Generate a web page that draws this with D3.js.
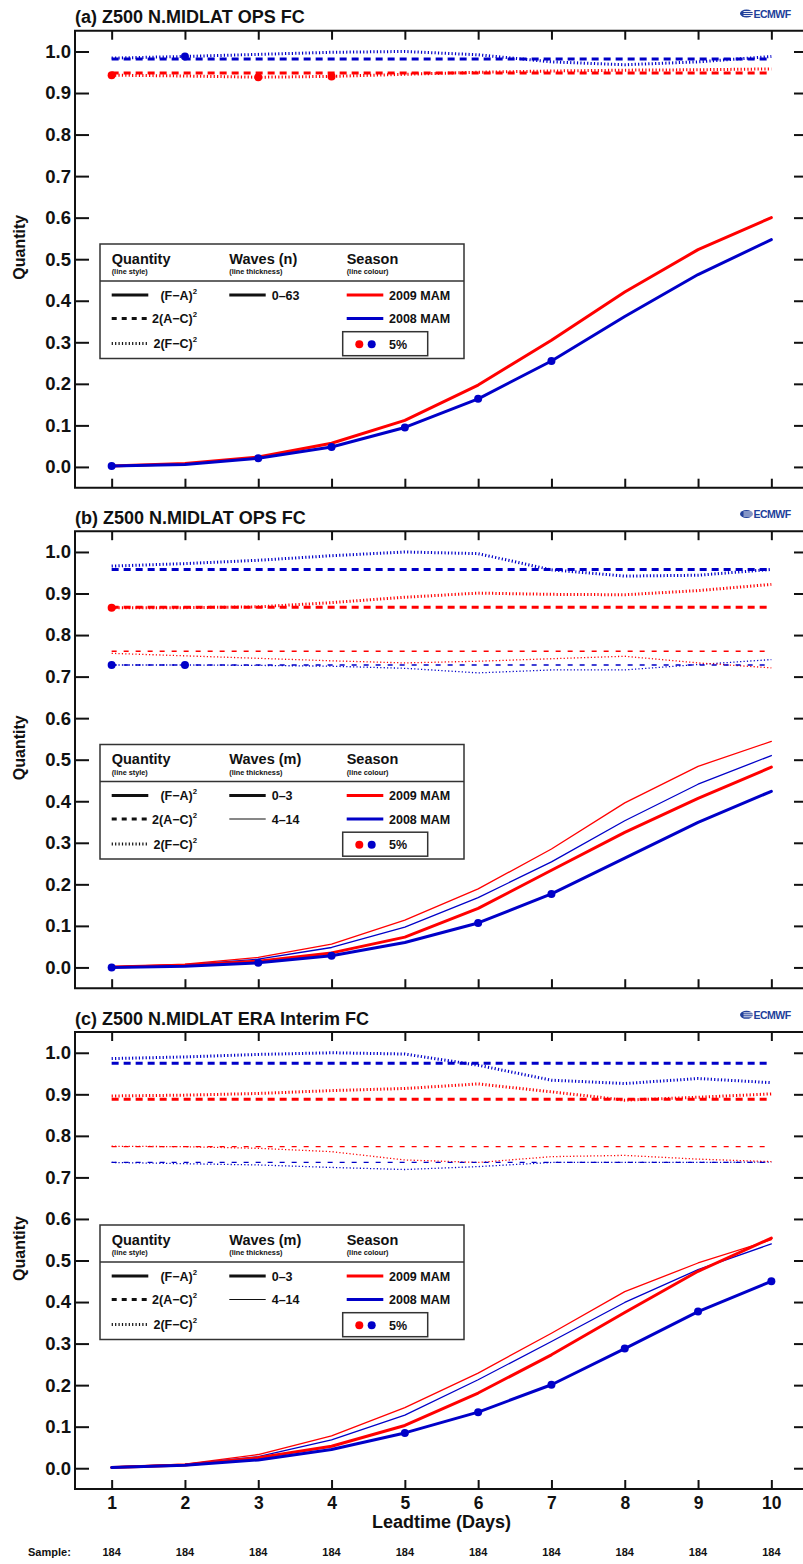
<!DOCTYPE html>
<html>
<head>
<script src="https://d3js.org/d3.v7.min.js"></script>
<style>
  body { margin: 0; background: #fff; }
  svg text { font-family: "Liberation Sans", Arial, Helvetica, sans-serif; font-weight: bold; }
</style>
</head>
<body>
<div id="chart"></div>
<script>
// ---- data ----
const days = [1, 2, 3, 4, 5, 6, 7, 8, 9, 10];
const yTicks = [0, 0.1, 0.2, 0.3, 0.4, 0.5, 0.6, 0.7, 0.8, 0.9, 1.0];
const samples = [184, 184, 184, 184, 184, 184, 184, 184, 184, 184];
const titles = ["(a) Z500 N.MIDLAT OPS FC", "(b) Z500 N.MIDLAT OPS FC", "(c) Z500 N.MIDLAT ERA Interim FC"];
const seasons = ["2009 MAM", "2008 MAM"];

// panel (a): waves 0-63
const a_FA_2009 = [0.002, 0.008, 0.024, 0.057, 0.112, 0.197, 0.305, 0.421, 0.523, 0.600];
const a_FA_2008 = [0.002, 0.006, 0.021, 0.048, 0.095, 0.164, 0.255, 0.362, 0.463, 0.547];
const a_AC_2009 = [0.948, 0.948, 0.948, 0.948, 0.948, 0.948, 0.948, 0.948, 0.948, 0.948];
const a_AC_2008 = [0.982, 0.982, 0.982, 0.982, 0.982, 0.982, 0.982, 0.982, 0.982, 0.982];
const a_FC_2009 = [0.943, 0.941, 0.938, 0.940, 0.945, 0.950, 0.953, 0.955, 0.956, 0.958];
const a_FC_2008 = [0.984, 0.988, 0.993, 0.998, 1.000, 0.992, 0.975, 0.968, 0.975, 0.988];

// panel (b): waves 0-3 (thick) and 4-14 (thin)
const b_FA_2009_03 = [0.001, 0.005, 0.015, 0.035, 0.073, 0.142, 0.234, 0.325, 0.407, 0.482];
const b_FA_2008_03 = [0.000, 0.003, 0.011, 0.028, 0.060, 0.107, 0.177, 0.263, 0.349, 0.424];
const b_FA_2009_414 = [0.001, 0.008, 0.024, 0.056, 0.114, 0.189, 0.285, 0.396, 0.484, 0.544];
const b_FA_2008_414 = [0.001, 0.006, 0.020, 0.048, 0.097, 0.168, 0.254, 0.353, 0.441, 0.510];
const b_AC_2009_03 = [0.867, 0.867, 0.867, 0.867, 0.867, 0.867, 0.867, 0.867, 0.867, 0.867];
const b_AC_2008_03 = [0.958, 0.958, 0.958, 0.958, 0.958, 0.958, 0.958, 0.958, 0.958, 0.958];
const b_AC_2009_414 = [0.761, 0.761, 0.761, 0.761, 0.761, 0.761, 0.761, 0.761, 0.761, 0.761];
const b_AC_2008_414 = [0.728, 0.728, 0.728, 0.728, 0.728, 0.728, 0.728, 0.728, 0.728, 0.728];
const b_FC_2009_03 = [0.866, 0.866, 0.868, 0.878, 0.891, 0.901, 0.898, 0.897, 0.907, 0.922];
const b_FC_2008_03 = [0.966, 0.972, 0.980, 0.991, 1.000, 0.996, 0.957, 0.942, 0.944, 0.958];
const b_FC_2009_414 = [0.756, 0.750, 0.744, 0.738, 0.733, 0.737, 0.743, 0.749, 0.733, 0.721];
const b_FC_2008_414 = [0.728, 0.728, 0.727, 0.725, 0.720, 0.709, 0.716, 0.716, 0.729, 0.741];

// panel (c): waves 0-3 (thick) and 4-14 (thin)
const c_FA_2009_03 = [0.002, 0.008, 0.025, 0.053, 0.103, 0.181, 0.273, 0.375, 0.474, 0.554];
const c_FA_2008_03 = [0.002, 0.007, 0.020, 0.045, 0.085, 0.135, 0.201, 0.288, 0.377, 0.450];
const c_FA_2009_414 = [0.003, 0.010, 0.033, 0.078, 0.146, 0.229, 0.325, 0.425, 0.494, 0.550];
const c_FA_2008_414 = [0.003, 0.009, 0.028, 0.068, 0.128, 0.213, 0.305, 0.399, 0.478, 0.540];
const c_AC_2009_03 = [0.888, 0.888, 0.888, 0.888, 0.888, 0.888, 0.888, 0.888, 0.888, 0.888];
const c_AC_2008_03 = [0.975, 0.975, 0.975, 0.975, 0.975, 0.975, 0.975, 0.975, 0.975, 0.975];
const c_AC_2009_414 = [0.774, 0.774, 0.774, 0.774, 0.774, 0.774, 0.774, 0.774, 0.774, 0.774];
const c_AC_2008_414 = [0.736, 0.736, 0.736, 0.736, 0.736, 0.736, 0.736, 0.736, 0.736, 0.736];
const c_FC_2009_03 = [0.896, 0.898, 0.902, 0.909, 0.914, 0.925, 0.906, 0.886, 0.893, 0.901];
const c_FC_2008_03 = [0.986, 0.990, 0.996, 1.000, 0.997, 0.970, 0.934, 0.926, 0.938, 0.928];
const c_FC_2009_414 = [0.775, 0.774, 0.770, 0.762, 0.742, 0.736, 0.750, 0.753, 0.744, 0.738];
const c_FC_2008_414 = [0.736, 0.733, 0.730, 0.724, 0.719, 0.726, 0.736, 0.736, 0.736, 0.737];

// days flagged significant at 5% (dots)
const a_sig_FC_2009 = [1, 3, 4];
const a_sig_FC_2008 = [2];
const a_sig_FA_2008 = [1, 3, 4, 5, 6, 7];
const b_sig_FC_2009_03 = [1];
const b_sig_FC_2008_414 = [1, 2];
const b_sig_FA_2008_03 = [1, 3, 4, 6, 7];
const c_sig_FA_2008_03 = [5, 6, 7, 8, 9, 10];

// ---- layout ----
const W = 803, H = 1564;
const frameLeft = 75, frameRight = 808;
const panelTops = [30.7, 531.2, 1032];
const panelH = 457;
const legendDy = [213.3, 213.3, 193];

const red = "#ff0000", blue = "#0000c8";
const colour = { "2009": red, "2008": blue };
const dash = {
  FA: { thick: null, thin: null },
  AC: { thick: "7,5", thin: "5,7" },
  FC: { thick: "1.2,2.2", thin: "1.2,2.2" }
};
const widthOf = { thick: 3, thin: 1.3 };

function S(values, q, w, s) { return { values, q, w, s }; }

const panels = [
  {
    waveName: "Waves (n)", waveLabels: ["0–63"],
    series: [
      S(a_FC_2008, "FC", "thick", "2008"), S(a_FC_2009, "FC", "thick", "2009"),
      S(a_AC_2008, "AC", "thick", "2008"), S(a_AC_2009, "AC", "thick", "2009"),
      S(a_FA_2009, "FA", "thick", "2009"), S(a_FA_2008, "FA", "thick", "2008")
    ],
    dots: [[a_FC_2009, a_sig_FC_2009, "2009"], [a_FC_2008, a_sig_FC_2008, "2008"], [a_FA_2008, a_sig_FA_2008, "2008"]]
  },
  {
    waveName: "Waves (m)", waveLabels: ["0–3", "4–14"],
    series: [
      S(b_FC_2008_414, "FC", "thin", "2008"), S(b_FC_2009_414, "FC", "thin", "2009"),
      S(b_AC_2008_414, "AC", "thin", "2008"), S(b_AC_2009_414, "AC", "thin", "2009"),
      S(b_FC_2008_03, "FC", "thick", "2008"), S(b_FC_2009_03, "FC", "thick", "2009"),
      S(b_AC_2008_03, "AC", "thick", "2008"), S(b_AC_2009_03, "AC", "thick", "2009"),
      S(b_FA_2009_414, "FA", "thin", "2009"), S(b_FA_2008_414, "FA", "thin", "2008"),
      S(b_FA_2009_03, "FA", "thick", "2009"), S(b_FA_2008_03, "FA", "thick", "2008")
    ],
    dots: [[b_FC_2009_03, b_sig_FC_2009_03, "2009"], [b_FC_2008_414, b_sig_FC_2008_414, "2008"], [b_FA_2008_03, b_sig_FA_2008_03, "2008"]]
  },
  {
    waveName: "Waves (m)", waveLabels: ["0–3", "4–14"],
    series: [
      S(c_FC_2008_414, "FC", "thin", "2008"), S(c_FC_2009_414, "FC", "thin", "2009"),
      S(c_AC_2008_414, "AC", "thin", "2008"), S(c_AC_2009_414, "AC", "thin", "2009"),
      S(c_FC_2008_03, "FC", "thick", "2008"), S(c_FC_2009_03, "FC", "thick", "2009"),
      S(c_AC_2008_03, "AC", "thick", "2008"), S(c_AC_2009_03, "AC", "thick", "2009"),
      S(c_FA_2009_414, "FA", "thin", "2009"), S(c_FA_2008_414, "FA", "thin", "2008"),
      S(c_FA_2009_03, "FA", "thick", "2009"), S(c_FA_2008_03, "FA", "thick", "2008")
    ],
    dots: [[c_FA_2008_03, c_sig_FA_2008_03, "2008"]]
  }
];

const svg = d3.select("#chart").append("svg")
  .attr("width", W).attr("height", H)
  .style("display", "block");

const x = d3.scaleLinear().domain([0.5, 10.5]).range([frameLeft, frameRight]);

function drawLogo(g, ty) {
  const lg = g.append("g").attr("transform", `translate(740,${ty})`);
  lg.append("ellipse").attr("cx", 6.5).attr("cy", 3.8).attr("rx", 6.5).attr("ry", 4).attr("fill", "#21409a");
  [1.8, 3.8, 5.8].forEach(yy => lg.append("line")
    .attr("x1", 3.5).attr("x2", 13).attr("y1", yy).attr("y2", yy)
    .attr("stroke", "#fff").attr("stroke-width", 0.9));
  lg.append("text").attr("x", 13.5).attr("y", 7.8)
    .attr("font-size", 10.5).attr("fill", "#21409a").attr("letter-spacing", -0.5)
    .text("ECMWF");
}

function superText(g, xx, yy, main, anchor, size) {
  const t = g.append("text").attr("x", xx).attr("y", yy)
    .attr("font-size", size).attr("text-anchor", anchor).attr("fill", "#111");
  t.append("tspan").text(main);
  t.append("tspan").attr("font-size", size * 0.62).attr("dy", -6).text("2");
  return t;
}

panels.forEach((p, pi) => {
  const top = panelTops[pi];
  const bottom = top + panelH;
  const y = d3.scaleLinear().domain([-0.05, 1.05]).range([bottom, top]);
  const g = svg.append("g");

  // title + logo
  g.append("text").attr("x", frameLeft).attr("y", top - 7.5)
    .attr("font-size", 18).attr("fill", "#111").text(titles[pi]);
  drawLogo(g, top - 21);

  // y axes (ticks inward on both sides)
  const yl = g.append("g").attr("transform", `translate(${frameLeft},0)`)
    .call(d3.axisLeft(y).tickValues(yTicks).tickFormat(d3.format(".1f")).tickSize(-14).tickPadding(4));
  const yr = g.append("g").attr("transform", `translate(${frameRight},0)`)
    .call(d3.axisRight(y).tickValues(yTicks).tickFormat("").tickSize(-14));
  [yl, yr].forEach(a => {
    a.select(".domain").remove();
    a.selectAll(".tick line").attr("stroke", "#111").attr("stroke-width", 2);
  });
  yl.selectAll(".tick text").attr("font-size", 18.5).attr("fill", "#111")
    .attr("font-family", "Liberation Sans, Arial, sans-serif").attr("font-weight", "bold");

  // x axes (ticks inward top and bottom)
  const xb = g.append("g").attr("transform", `translate(0,${bottom})`)
    .call(d3.axisBottom(x).tickValues(days).tickSize(-9).tickPadding(8)
      .tickFormat(pi === 2 ? d3.format("d") : ""));
  const xt = g.append("g").attr("transform", `translate(0,${top})`)
    .call(d3.axisTop(x).tickValues(days).tickSize(-9).tickFormat(""));
  [xb, xt].forEach(a => {
    a.select(".domain").remove();
    a.selectAll(".tick line").attr("stroke", "#111").attr("stroke-width", 2);
  });
  xb.selectAll(".tick text").attr("font-size", 17.5).attr("fill", "#111")
    .attr("font-family", "Liberation Sans, Arial, sans-serif").attr("font-weight", "bold");

  // frame: left, top, bottom
  g.append("path")
    .attr("d", `M${frameRight + 5},${top}H${frameLeft}V${bottom}H${frameRight + 5}`)
    .attr("fill", "none").attr("stroke", "#111").attr("stroke-width", 2);

  // y label
  g.append("text")
    .attr("transform", `translate(25,${(top + bottom) / 2 - 12}) rotate(-90)`)
    .attr("text-anchor", "middle").attr("font-size", 16).attr("fill", "#111")
    .text("Quantity");

  // lines
  const line = d3.line().x((d, i) => x(days[i])).y(d => y(d));
  g.append("g").selectAll("path").data(p.series).join("path")
    .attr("d", d => line(d.values))
    .attr("fill", "none")
    .attr("stroke", d => colour[d.s])
    .attr("stroke-width", d => widthOf[d.w])
    .attr("stroke-dasharray", d => dash[d.q][d.w])
    .attr("stroke-linejoin", "round")
    .attr("stroke-linecap", d => d.q === "FA" ? "round" : "butt");

  // significance dots
  const dotData = [];
  p.dots.forEach(([vals, sig, s]) => sig.forEach(dd => dotData.push({ d: dd, v: vals[dd - 1], s })));
  g.append("g").selectAll("circle").data(dotData).join("circle")
    .attr("cx", d => x(d.d)).attr("cy", d => y(d.v)).attr("r", 4)
    .attr("fill", d => colour[d.s]);

  // legend
  const L = g.append("g").attr("transform", `translate(100,${top + legendDy[pi]})`);
  L.append("rect").attr("width", 364).attr("height", 114.5)
    .attr("fill", "#fff").attr("stroke", "#333").attr("stroke-width", 1.5);
  L.append("line").attr("x1", 0).attr("x2", 364).attr("y1", 37).attr("y2", 37)
    .attr("stroke", "#333").attr("stroke-width", 1.5);
  const heads = [["Quantity", "(line style)", 11.7], [p.waveName, "(line thickness)", 129.3], ["Season", "(line colour)", 246.7]];
  heads.forEach(([h, sub, hx]) => {
    L.append("text").attr("x", hx).attr("y", 19.5).attr("font-size", 14.5).attr("fill", "#111").text(h);
    L.append("text").attr("x", hx).attr("y", 30).attr("font-size", 7.3).attr("fill", "#111").text(sub);
  });
  const rowsY = [51, 74.5, 99.5];
  const qLabels = [["(F−A)", null], ["2(A−C)", "5,5"], ["2(F−C)", "1.2,2.2"]];
  qLabels.forEach(([lab, da], i) => {
    L.append("line").attr("x1", 11.7).attr("x2", 48.3).attr("y1", rowsY[i]).attr("y2", rowsY[i])
      .attr("stroke", "#111").attr("stroke-width", 3).attr("stroke-dasharray", da);
    superText(L, 97, rowsY[i] + 4.5, lab, "end", 12.5);
  });
  p.waveLabels.forEach((lab, i) => {
    L.append("line").attr("x1", 129.3).attr("x2", 165.7).attr("y1", rowsY[i]).attr("y2", rowsY[i])
      .attr("stroke", "#111").attr("stroke-width", i === 0 ? 3 : 1.2);
    L.append("text").attr("x", 171.7).attr("y", rowsY[i] + 4.5).attr("font-size", 12.5).attr("fill", "#111").text(lab);
  });
  [red, blue].forEach((c, i) => {
    L.append("line").attr("x1", 246.7).attr("x2", 283.3).attr("y1", rowsY[i]).attr("y2", rowsY[i])
      .attr("stroke", c).attr("stroke-width", 3);
    L.append("text").attr("x", 289).attr("y", rowsY[i] + 4.5).attr("font-size", 12.5).attr("fill", "#111").text(seasons[i]);
  });
  L.append("rect").attr("x", 242.7).attr("y", 87.7).attr("width", 85).attr("height", 24)
    .attr("fill", "none").attr("stroke", "#333").attr("stroke-width", 1.5);
  L.append("circle").attr("cx", 259.3).attr("cy", 100.3).attr("r", 4).attr("fill", red);
  L.append("circle").attr("cx", 271.7).attr("cy", 100.3).attr("r", 4).attr("fill", blue);
  L.append("text").attr("x", 289).attr("y", 104.8).attr("font-size", 12.5).attr("fill", "#111").text("5%");

  if (pi === 2) {
    g.append("text").attr("x", x(5.5)).attr("y", bottom + 39)
      .attr("text-anchor", "middle").attr("font-size", 18).attr("fill", "#111")
      .text("Leadtime (Days)");
    g.append("text").attr("x", 28).attr("y", bottom + 67)
      .attr("font-size", 11).attr("fill", "#111").text("Sample:");
    g.append("g").selectAll("text").data(samples).join("text")
      .attr("x", (d, i) => x(days[i])).attr("y", bottom + 67)
      .attr("text-anchor", "middle").attr("font-size", 11).attr("fill", "#111")
      .text(d => d);
  }
});
</script>
</body>
</html>
